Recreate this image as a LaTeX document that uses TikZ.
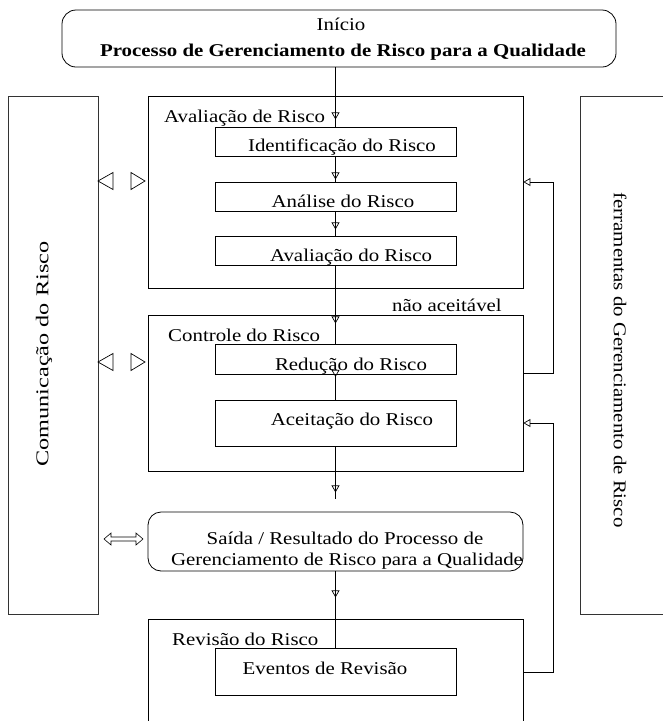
\documentclass[tikz,border=0pt]{standalone}
\usepackage{fontspec}
\setmainfont{Liberation Serif}[FakeStretch=1.16]
\usetikzlibrary{arrows.meta,decorations.markings}
\begin{document}
\begin{tikzpicture}[x=1pt,y=-1pt,
  every node/.style={font=\fontsize{18}{21}\selectfont, inner sep=0pt},
  ln/.style={line width=0.8pt},
  bigbox/.style={draw, line width=0.8pt, minimum width=375pt},
  innerbox/.style={draw, line width=0.8pt, minimum width=241pt},
  sidebox/.style={draw=black!80, line width=0.9pt},
  >={Triangle[open,length=7pt,width=8pt,line width=0.7pt]},
  midtri/.style={postaction={decorate}, decoration={markings, mark=at position #1 with {\arrow{>}}}},
  lbl/.style={anchor=base},
  lblw/.style={anchor=base west}]
\useasboundingbox (0,0) rectangle (663,721);
\begin{scope}
\clip (0,0) rectangle (663,721);
% side boxes
\node[sidebox, minimum width=90pt, minimum height=518pt] (comm) at (53,355) {};
\node[rotate=90] (commtxt) at (44,354) {\scalebox{1.16}[1]{Comunicação do Risco}};
\node[sidebox, minimum width=100pt, minimum height=518pt] (tools) at (630,355) {};
\node[rotate=-90] (toolstxt) at (620,360) {ferramentas do Gerenciamento de Risco};
% start
\node[draw, ln, rounded corners=14pt, minimum width=554pt, minimum height=57pt] (start) at (339,38.5) {};
\node[lbl] (starttxt1) at (341,30) {Início};
\node[lbl] (starttxt2) at (343,56) {\bfseries Processo de Gerenciamento de Risco para a Qualidade};
% assessment
\node[bigbox, minimum height=192pt] (eval) at (335.5,192) {};
\node[lblw] (evaltxt) at (164,122) {Avaliação de Risco};
\node[innerbox, minimum height=29pt] (ident) at (335.5,141.5) {};
\node[lbl] (identtxt) at (342,151) {Identificação do Risco};
\node[innerbox, minimum height=29pt] (anal) at (335.5,196.5) {};
\node[lbl] (analtxt) at (343,207) {Análise do Risco};
\node[innerbox, minimum height=29pt] (avr) at (335.5,250.5) {};
\node[lbl] (avrtxt) at (351,261) {Avaliação do Risco};
% control
\node[bigbox, minimum height=156pt] (ctrl) at (335.5,393) {};
\node[lblw] (ctrltxt) at (168,341) {Controle do Risco};
\node[innerbox, minimum height=30pt] (red) at (335.5,359) {};
\node[lbl] (redtxt) at (351,370) {Redução do Risco};
\node[innerbox, minimum height=46pt] (acc) at (335.5,423) {};
\node[lbl] (acctxt) at (352,425) {Aceitação do Risco};
\node[lbl] (naotxt) at (447,311) {não aceitável};
% output
\node[draw, ln, rounded corners=13pt, minimum width=375pt, minimum height=59pt] (out) at (335.5,541.5) {};
\node[lbl] (outtxt1) at (345,544) {Saída / Resultado do Processo de};
\node[lbl] (outtxt2) at (347,565) {Gerenciamento de Risco para a Qualidade};
% review
\node[bigbox, minimum height=111pt] (rev) at (335.5,674.5) {};
\node[lblw] (revtxt) at (172,645) {Revisão do Risco};
\node[innerbox, minimum height=47pt] (evt) at (335.5,671.5) {};
\node[lbl] (evttxt) at (325,674) {Eventos de Revisão};
% flow
\coordinate (accend) at (335.5,499);
\draw[ln, midtri=52pt] (start.south -| ident.north) -- (ident.north);
\draw[ln, midtri=23pt] (ident.south) -- (anal.north);
\draw[ln, midtri=18pt] (anal.south) -- (avr.north);
\draw[ln, midtri=58pt] (avr.south) -- (red.north);
\draw[ln, midtri=2.5pt] (red.south) -- (acc.north);
\draw[ln, midtri=46pt] (acc.south) -- (accend);
\draw[ln, midtri=26pt] (out.south) -- (evt.north);
% loops
\draw[ln, ->] (ctrl.east |- 0,373) -- (553,373) -- (553,182) -- (eval.east |- 0,182);
\draw[ln, ->] (rev.east |- 0,672) -- (553,672) -- (553,423) -- (ctrl.east |- 0,423);
% communication arrows
\draw[line width=0.7pt] (98,181) -- (113,172.5) -- (113,189.5) -- cycle;
\draw[line width=0.7pt] (145,181) -- (131,172.5) -- (131,189.5) -- cycle;
\draw[line width=0.7pt] (98,362) -- (113,353.5) -- (113,370.5) -- cycle;
\draw[line width=0.7pt] (145,362) -- (131,353.5) -- (131,370.5) -- cycle;
\draw[line width=0.6pt] (104,539) -- (111,533) -- (111,537) -- (136,537) -- (136,533) -- (143,539) -- (136,545) -- (136,541) -- (111,541) -- (111,545) -- cycle;
\end{scope}
\end{tikzpicture}
\end{document}
